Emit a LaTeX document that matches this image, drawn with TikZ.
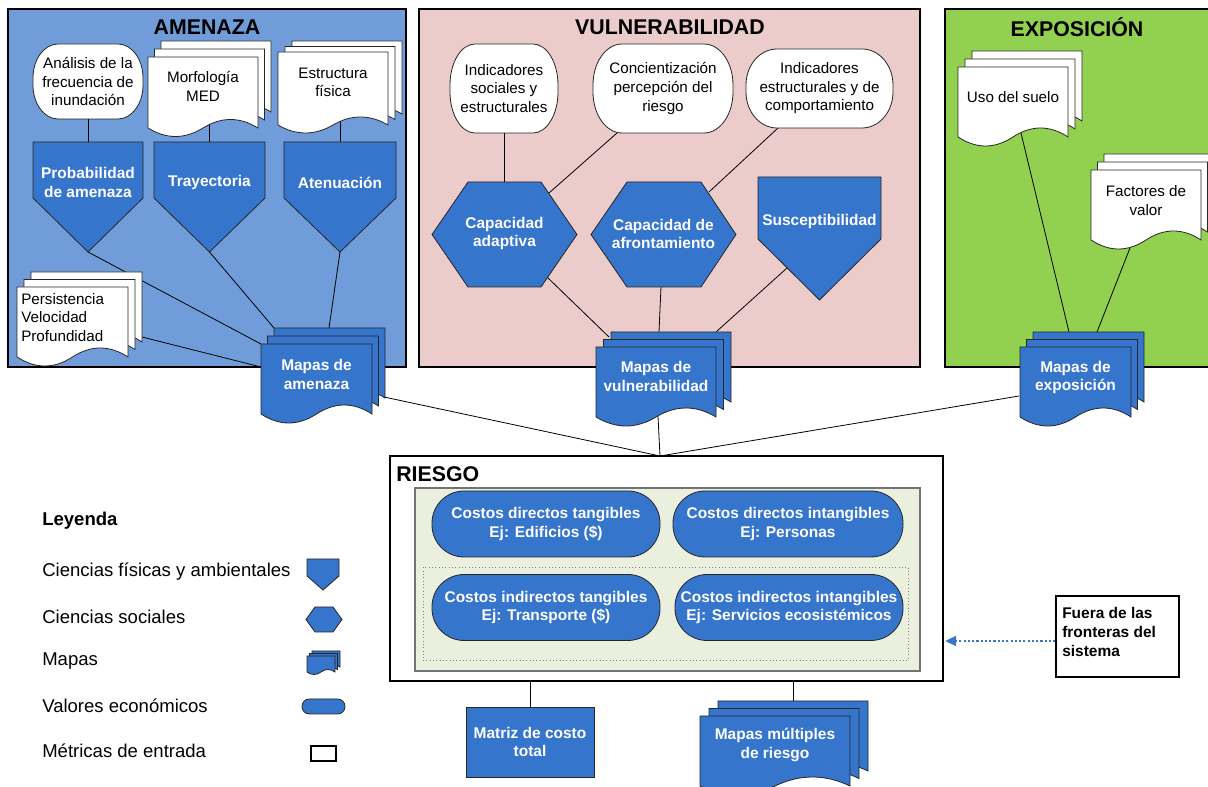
\documentclass[tikz,border=0pt]{standalone}
\usepackage{fontspec}
\setmainfont{Liberation Sans}
\usetikzlibrary{arrows.meta}
\definecolor{mblue}{RGB}{54,117,204}
\definecolor{amz}{RGB}{112,157,217}
\definecolor{vul}{RGB}{236,204,203}
\definecolor{expo}{RGB}{146,208,80}
\definecolor{rin}{RGB}{235,240,222}
\definecolor{arrblue}{RGB}{58,118,200}
\newcommand{\lblf}{\fontsize{11.4}{13.9}\selectfont}
\newcommand{\blf}{\fontsize{11.6}{14}\selectfont\bfseries}
\newcommand{\ttlf}{\fontsize{16}{19}\selectfont\bfseries}
\newcommand{\legf}{\fontsize{13.9}{16}\selectfont}
\newcommand{\DocPath}[5]{({#1},{#2}) -- ({#1+#3},{#2}) -- ({#1+#3},{#2+#4}) .. controls ({#1+#3*5/6},{#2+#4-#5*4/3}) and ({#1+#3*2/3},{#2+#4-#5*4/3}) .. ({#1+#3/2},{#2+#4}) .. controls ({#1+#3/3},{#2+#4+#5*4/3}) and ({#1+#3/6},{#2+#4+#5*4/3}) .. ({#1},{#2+#4}) -- cycle}
\newcommand{\MultiDoc}[8]{%
  \draw[shp,fill=#8] \DocPath{#1+2*#6}{#2-2*#7}{#3}{#4}{#5};
  \draw[shp,fill=#8] \DocPath{#1+#6}{#2-#7}{#3}{#4}{#5};
  \draw[shp,fill=#8] \DocPath{#1}{#2}{#3}{#4}{#5};}
\newcommand{\PentPath}[5]{({#1},{#3}) -- ({#2},{#3}) -- ({#2},{#4}) -- ({(#1+#2)/2},{#5}) -- ({#1},{#4}) -- cycle}
\newcommand{\HexPath}[6]{({#1},{(#5+#6)/2}) -- ({#2},{#5}) -- ({#3},{#5}) -- ({#4},{(#5+#6)/2}) -- ({#3},{#6}) -- ({#2},{#6}) -- cycle}
% terminal with elliptical ends: x0 y0 x1 y1 rx ry (px)
\newcommand{\TermPath}[6]{({#1+#5},{#2}) -- ({#3-#5},{#2}) arc[start angle=90,end angle=0,x radius={#5*0.75pt},y radius={#6*0.75pt}] -- ({#3},{#4-#6}) arc[start angle=0,end angle=-90,x radius={#5*0.75pt},y radius={#6*0.75pt}] -- ({#1+#5},{#4}) arc[start angle=270,end angle=180,x radius={#5*0.75pt},y radius={#6*0.75pt}] -- ({#1},{#2+#6}) arc[start angle=180,end angle=90,x radius={#5*0.75pt},y radius={#6*0.75pt}] -- cycle}
\pgfdeclarelayer{panels}
\pgfdeclarelayer{lines}
\pgfsetlayers{panels,lines,main}
\begin{document}
\begin{tikzpicture}[x=0.75pt,y=-0.75pt,
  shp/.style={draw=black!85,line width=0.6pt},
  conn/.style={draw=black,line width=0.6pt},
  panel/.style={draw=black,line width=1.5pt},
  ttl/.style={font=\ttlf},
  lb/.style={font=\lblf,align=center,inner sep=0pt},
  wl/.style={font=\blf,text=white,align=center,inner sep=0pt},
  pill/.style={shp,fill=mblue,rounded corners=24pt,font=\blf,text=white,align=center,inner sep=0pt,minimum height=49.5pt},
  leg/.style={font=\legf,anchor=west,inner sep=0pt}]
\path[use as bounding box,clip] (0,0) rectangle (1208,787);

% ---------- panels ----------
\begin{pgfonlayer}{panels}
\fill[white] (0,0) rectangle (1208,787);
\draw[panel,fill=amz] (8,9) rectangle (406,367);
\draw[panel,fill=vul] (419,9) rectangle (920,367);
\draw[panel,fill=expo] (945,9) rectangle (1230,367);
\end{pgfonlayer}
\node[ttl] (tA) at (207,27) {AMENAZA};
\node[ttl] (tV) at (670,27) {VULNERABILIDAD};
\node[ttl] (tE) at (1077,27) {EXPOSICIÓN};

% ---------- AMENAZA ----------
\draw[shp,fill=white] \TermPath{33}{44}{143}{119}{25}{34};
\node[lb] (ana) at (88,81.5) {Análisis de la\\frecuencia de\\inundación};
\MultiDoc{148}{57}{110}{71}{8.5}{6.5}{8}{white}
\node[lb] (morf) at (203,86.5) {Morfología\\MED};
\MultiDoc{278}{52}{110}{73}{8}{7}{5.5}{white}
\node[lb] (estr) at (333,82.5) {Estructura\\física};
\draw[shp,fill=mblue] \PentPath{33}{143}{142}{198}{252};
\node[wl] (prob) at (88,182.5) {Probabilidad\\de amenaza};
\draw[shp,fill=mblue] \PentPath{154}{265}{142}{198}{252};
\node[wl] (tray) at (209.5,183) {Trayectoria};
\draw[shp,fill=mblue] \PentPath{284}{396}{142}{198}{252};
\node[wl] (aten) at (340,183) {Atenuación};
\MultiDoc{17}{287}{111}{70}{9}{7}{7.5}{white}
\node[font=\lblf,align=left,anchor=west,inner sep=0pt] (pers) at (21,317.5) {Persistencia\\Velocidad\\Profundidad};
\MultiDoc{261}{344}{111}{70}{9}{6.5}{8}{mblue}
\node[wl] (mapA) at (316.5,374.5) {Mapas de\\amenaza};

\coordinate (probT) at (88,142);
\coordinate (probP) at (88,252);
\coordinate (trayT) at (209,142);
\coordinate (trayP) at (209.5,252);
\coordinate (atenT) at (340,142);
\coordinate (atenP) at (340,252);
\coordinate (persR) at (142,337);
\coordinate (mapAfl) at (261,344);
\coordinate (mapAbl) at (274,328);
\coordinate (mapAbt) at (329,328);
\coordinate (mapAl) at (261,367);
\coordinate (mapAr) at (384,397);
\coordinate (risTop) at (660,456);

% ---------- VULNERABILIDAD ----------
\draw[shp,fill=white] \TermPath{450}{44}{558}{133}{25}{41};
\node[lb] (ind1) at (504,88.5) {Indicadores\\sociales y\\estructurales};
\draw[shp,fill=white] \TermPath{593}{44}{733}{133}{29}{41};
\node[lb] (conc) at (663,88.5) {Concientización\\percepción del\\riesgo};
\draw[shp,fill=white] \TermPath{746}{49}{893}{128}{31}{36};
\node[lb] (ind2) at (819.5,88.5) {Indicadores\\estructurales y de\\comportamiento};
\draw[shp,fill=mblue] \HexPath{432}{468}{541}{577}{182}{287};
\node[wl] (hex1) at (504.5,233.5) {Capacidad\\adaptiva};
\draw[shp,fill=mblue] \HexPath{591}{627}{701}{736}{182}{287};
\node[wl] (hex2) at (663.5,234) {Capacidad de\\afrontamiento};
\draw[shp,fill=mblue] \PentPath{758}{881}{177}{239}{300};
\node[wl] (susc) at (819.5,222) {Susceptibilidad};
\MultiDoc{596}{347}{120}{70}{9}{7.5}{7.5}{mblue}
\node[wl] (mapV) at (656,376.5) {Mapas de\\vulnerabilidad};

\coordinate (hex1T) at (504,182);
\coordinate (concB) at (617,133);
\coordinate (hex1TR) at (549,193);
\coordinate (ind2B) at (778,128);
\coordinate (hex2TR) at (709,192);
\coordinate (hex1BR) at (548,278);
\coordinate (mapVl) at (609,337);
\coordinate (hex2B) at (661,287);
\coordinate (mapVt) at (659,332);
\coordinate (suscL) at (787,268);
\coordinate (mapVr) at (716,332);

% ---------- EXPOSICION ----------
\MultiDoc{958}{67}{110}{70}{9}{7}{8}{white}
\node[lb] (uso) at (1013,97) {Uso del suelo};
\MultiDoc{1091}{170}{110}{70}{9}{6.5}{8}{white}
\node[lb] (fac) at (1146,200.5) {Factores de\\valor};
\MultiDoc{1020}{347}{111}{70}{9}{6.5}{7.5}{mblue}
\node[wl] (mapE) at (1075.5,377.5) {Mapas de\\exposición};
\coordinate (usoB) at (1021,133);
\coordinate (mapEt1) at (1069,332);
\coordinate (facB) at (1130,248);
\coordinate (mapEt2) at (1097,332);
\coordinate (mapEl) at (1019,396);

% ---------- RIESGO ----------
\node[draw=black,line width=1.5pt,fill=white,minimum width=414.75pt,minimum height=168.75pt,inner sep=0pt] (ries) at (666.5,568.5) {};
\node[font=\ttlf,anchor=west,inner sep=0pt] (rtitle) at (396,474) {RIESGO};
\node[draw=black!55,line width=0.8pt,fill=rin,minimum width=378.75pt,minimum height=137.25pt,inner sep=0pt] (rin) at (667.5,579.5) {};
\node[draw=black!50,dotted,line width=0.5pt,minimum width=363.75pt,minimum height=69.75pt,inner sep=0pt] (rdot) at (665.5,613.5) {};
\node[pill,minimum width=171pt] (p1) at (546,524) {Costos directos tangibles\\Ej: Edificios (\$)};
\node[pill,minimum width=172.5pt] (p2) at (788,524) {Costos directos intangibles\\Ej: Personas};
\node[pill,minimum width=171pt] (p3) at (546,607.5) {Costos indirectos tangibles\\Ej: Transporte (\$)};
\node[pill,minimum width=171pt] (p4) at (789,607.5) {Costos indirectos intangibles\\Ej: Servicios ecosistémicos};

% ---------- bottom outputs ----------
\node[shp,fill=mblue,minimum width=96pt,minimum height=52.5pt,font=\blf,text=white,align=center,inner sep=0pt] (matriz) at (530,742) {Matriz de costo\\total};
\MultiDoc{700}{716}{150}{70}{9}{9}{7.5}{mblue}
\node[wl] (mapR) at (775,745) {Mapas múltiples\\de riesgo};
\coordinate (mapRt) at (793,701);

% ---------- outside box ----------
\node[draw=black,line width=1pt,fill=white,minimum width=92.25pt,minimum height=60.75pt,inner sep=0pt] (fuera) at (1117.5,636.5) {};
\node[font=\blf,align=left,anchor=west,inner sep=0pt] (fueraT) at (1062,632) {Fuera de las\\fronteras del\\sistema};
\coordinate (arrY) at (0,641);
\draw[arrblue,line width=1.2pt,dash pattern=on 1.6pt off 1.6pt,-{Triangle[length=8pt,width=7.5pt]}] (fuera.west |- arrY) -- ([xshift=1pt]ries.east |- arrY);

% ---------- legend ----------
\node[font=\legf\bfseries,anchor=west,inner sep=0pt] (leyenda) at (42,521) {Leyenda};
\node[leg] (l1) at (42,572) {Ciencias físicas y ambientales};
\node[leg] (l2) at (42,617) {Ciencias sociales};
\node[leg] (l3) at (42,661) {Mapas};
\node[leg] (l4) at (42,706) {Valores económicos};
\node[leg] (l5) at (42,751) {Métricas de entrada};
\draw[shp,fill=mblue] \PentPath{307}{339}{559}{576}{590};
\draw[shp,fill=mblue] \HexPath{306}{315}{333}{342}{607}{632};
\MultiDoc{307}{656}{28}{16}{2.5}{2.5}{2.5}{mblue}
\node[shp,fill=mblue,rounded corners=5.5pt,minimum width=32.25pt,minimum height=11.25pt,inner sep=0pt] (legpill) at (323.5,706.5) {};
\node[draw=black,line width=0.9pt,fill=white,minimum width=18.75pt,minimum height=11.25pt,inner sep=0pt] (legrect) at (323.5,753.5) {};

% ---------- connectors ----------
\begin{pgfonlayer}{lines}
\draw[conn] (ana) -- (probT);
\draw[conn] (trayT |- morf) -- (trayT);
\draw[conn] (atenT |- estr) -- (atenT);
\draw[conn] (probP) -- (mapAfl);
\draw[conn] (trayP) -- (mapAbl);
\draw[conn] (atenP) -- (mapAbt);
\draw[conn] (persR) -- (mapAl);
\draw[conn] (mapAr) -- (risTop);
\draw[conn] (ind1) -- (hex1T);
\draw[conn] (concB) -- (hex1TR);
\draw[conn] (ind2B) -- (hex2TR);
\draw[conn] (hex1BR) -- (mapVl);
\draw[conn] (hex2B) -- (mapVt);
\draw[conn] (suscL) -- (mapVr);
\draw[conn] (mapV) -- (risTop);
\draw[conn] (usoB) -- (mapEt1);
\draw[conn] (facB) -- (mapEt2);
\draw[conn] (mapEl) -- (risTop);
\draw[conn] (matriz.north |- ries.south) -- (matriz.north);
\draw[conn] (mapRt |- ries.south) -- (mapRt);
\end{pgfonlayer}
\end{tikzpicture}
\end{document}
